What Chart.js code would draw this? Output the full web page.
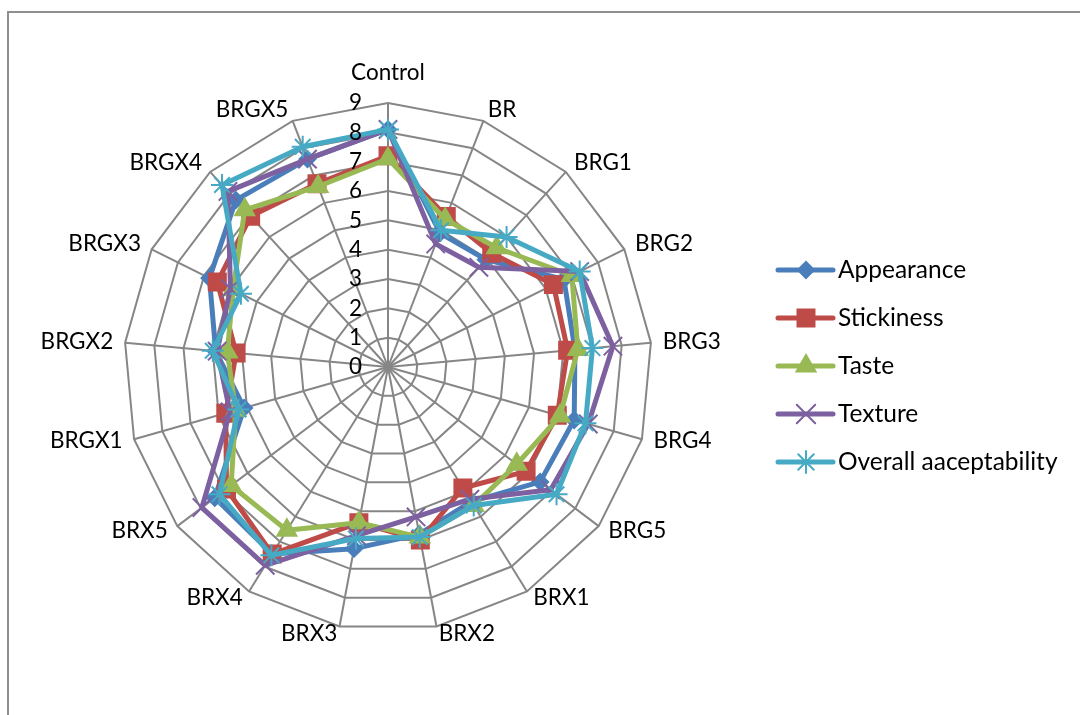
<!DOCTYPE html>
<html>
<head>
<meta charset="utf-8">
<script src="https://cdn.jsdelivr.net/npm/chart.js@4.4.1/dist/chart.umd.min.js"></script>
<style>
    html, body { margin: 0; padding: 0; background: #fff; }
    #wrap { position: relative; width: 1080px; height: 715px; overflow: hidden; }
    #frame {
        position: absolute; left: 7px; top: 11px; right: -5px; bottom: -5px;
        border-top: 2px solid #8e8e8e; border-left: 2px solid #8e8e8e;
    }
    #chart { position: absolute; left: 0; top: 0; }
</style>
</head>
<body>
<div id="wrap">
    <div id="frame"></div>
    <canvas id="chart" width="1080" height="715"></canvas>
</div>
<script>
const categories = ["Control", "BR", "BRG1", "BRG2", "BRG3", "BRG4", "BRG5", "BRX1", "BRX2",
    "BRX3", "BRX4", "BRX5", "BRGX1", "BRGX2", "BRGX3", "BRGX4", "BRGX5"];
const tickLabels = ["0", "1", "2", "3", "4", "5", "6", "7", "8", "9"];

const appearance = [8.1, 4.9, 4.95, 6.7, 6.4, 6.6, 6.5, 5.4, 5.8, 6.3, 7.5, 7.4, 5.1, 5.9, 6.8, 7.7, 7.6];
const stickiness = [7.2, 5.5, 5.25, 6.3, 6.15, 6.0, 5.9, 4.85, 6.0, 5.4, 7.5, 6.9, 5.75, 5.2, 6.5, 6.95, 6.7];
const taste = [7.1, 5.4, 5.5, 7.0, 6.5, 6.1, 5.5, 5.55, 5.9, 5.4, 6.55, 6.7, 5.4, 5.5, 5.9, 7.25, 6.6];
const texture = [8.1, 4.5, 4.6, 7.3, 7.7, 7.1, 6.95, 5.3, 5.2, 5.85, 7.95, 7.95, 5.6, 5.85, 6.0, 8.1, 7.6];
const overall = [8.1, 5.0, 6.0, 7.3, 7.0, 7.0, 7.2, 5.55, 5.9, 5.95, 7.55, 7.2, 5.3, 6.0, 5.6, 8.4, 8.05];

const FONT = '22.5px Lato';
const LEGEND_FONT = '24.5px Lato';

// one entry per series: label, data, colour, marker
const series = [
    { label: "Appearance", data: appearance, color: "#4a7ebb", style: "rectRot", radius: 8 },
    { label: "Stickiness", data: stickiness, color: "#be4b48", style: "rect", radius: 12 },
    { label: "Taste", data: taste, color: "#98b954", style: "triangle", radius: 11 },
    { label: "Texture", data: texture, color: "#7d60a0", style: "crossRot", radius: 13 },
    { label: "Overall aaceptability", data: overall, color: "#46aac5", style: "star", radius: 11 },
];

function getDatasets() {
    return series.map((s, i) => ({
        label: s.label,
        data: s.data,
        borderColor: s.color,
        backgroundColor: s.color,
        borderWidth: 5,
        borderJoinStyle: "round",
        fill: false,
        pointStyle: s.style,
        pointRadius: s.radius,
        pointBackgroundColor: s.color,
        pointBorderColor: s.color,
        pointBorderWidth: 2,
        order: series.length - i, // later series on top, like the original
    }));
}

// tick numbers left of the vertical axis, category names round the outside
const textPlugin = {
    id: "radarText",
    afterDraw(chart) {
        const ctx = chart.ctx;
        const scale = chart.scales.r;
        ctx.save();
        ctx.font = FONT;
        ctx.fillStyle = "#000";
        ctx.textBaseline = "middle";

        ctx.textAlign = "right";
        tickLabels.forEach((t) => {
            const d = scale.getDistanceFromCenterForValue(Number(t));
            ctx.fillText(t, scale.xCenter - 26, scale.yCenter - d);
        });

        categories.forEach((c, i) => {
            let p = scale.getPointPosition(i, scale.drawingArea + 12);
            let y = p.y;
            if (Math.abs(p.x - scale.xCenter) < 2) {
                p = scale.getPointPosition(i, scale.drawingArea + 30);
                ctx.textAlign = "center";
                y = p.y;
            } else {
                ctx.textAlign = p.x > scale.xCenter ? "left" : "right";
                if (y > scale.yCenter) {
                    y = scale.yCenter + (y - scale.yCenter) * 0.982;
                }
            }
            ctx.fillText(c, p.x, y);
        });

        // legend: line sample with marker, then the name
        const lx = 778, ly = 270, gap = 48;
        ctx.font = LEGEND_FONT;
        series.forEach((s, i) => {
            const y = ly + i * gap;
            ctx.strokeStyle = s.color;
            ctx.fillStyle = s.color;
            ctx.lineWidth = 5;
            ctx.lineCap = "round";
            ctx.beginPath();
            ctx.moveTo(lx, y);
            ctx.lineTo(lx + 55, y);
            ctx.stroke();
            ctx.lineWidth = 2;
            Chart.helpers.drawPoint(ctx, {
                pointStyle: s.style, radius: s.radius, rotation: 0, borderWidth: 2,
            }, lx + 28, y);
            ctx.fillStyle = "#000";
            ctx.textAlign = "left";
            ctx.fillText(s.label, lx + 60, y);
        });
        ctx.restore();
    },
};

const canvas = document.getElementById("chart");
const chart = new Chart(canvas.getContext("2d"), {
    type: "radar",
    data: {
        labels: categories,
        datasets: getDatasets(),
    },
    options: {
        responsive: false,
        animation: false,
        layout: { padding: { left: 124, right: 428, top: 103, bottom: 84 } },
        plugins: {
            legend: { display: false },
            tooltip: { enabled: false },
        },
        scales: {
            r: {
                min: 0,
                max: 9,
                ticks: { display: false, stepSize: 1 },
                pointLabels: { display: false },
                grid: { color: "#868686", lineWidth: 2 },
                angleLines: { color: "#868686", lineWidth: 2 },
            },
        },
    },
    plugins: [textPlugin],
});
</script>
</body>
</html>
